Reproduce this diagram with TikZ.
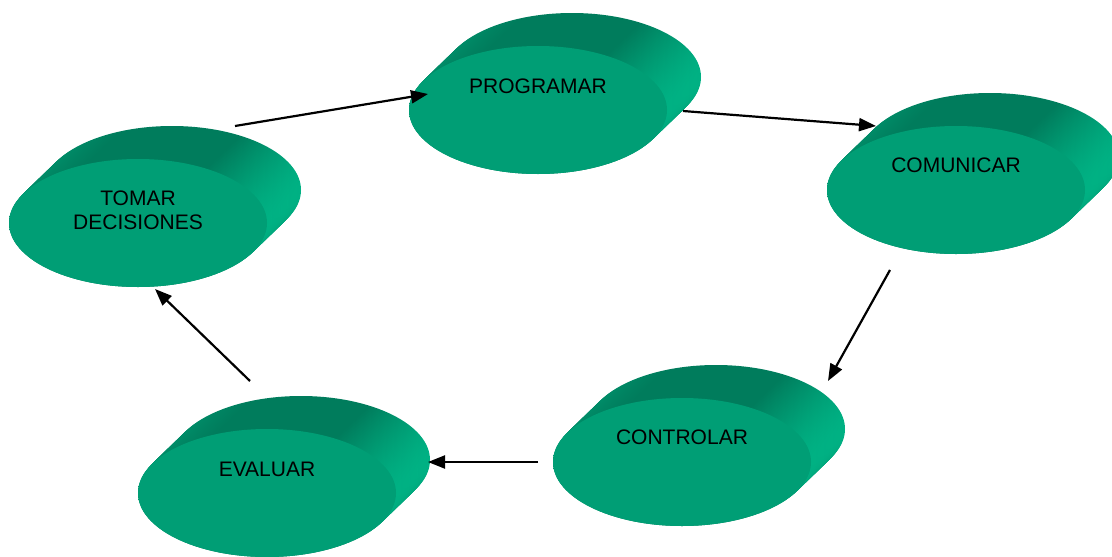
\documentclass[tikz,border=0pt]{standalone}
\usepackage{fontspec}
\setmainfont{Liberation Sans}
\usetikzlibrary{arrows.meta,shapes.geometric}
\definecolor{frontc}{RGB}{0,158,117}
\definecolor{sidel}{RGB}{0,146,108}
\definecolor{sidem}{RGB}{0,124,92}
\definecolor{sider}{RGB}{0,178,132}
\pgfdeclarehorizontalshading{sideshade}{100bp}{color(0bp)=(sidel); color(25bp)=(sidel); color(40bp)=(sidem); color(63bp)=(sidem); color(75bp)=(sider); color(100bp)=(sider)}
\tikzset{
  front/.style={ellipse, fill=frontc, minimum width=258pt, minimum height=128pt, inner sep=0pt},
  sidepart/.style={shading=sideshade},
  lbl/.style={font=\fontsize{21}{24}\selectfont, align=center, text=black},
  link/.style={line width=2.2pt, -{Triangle[length=17pt,width=13pt]}},
}
\newcommand\mydisk[5]{%
  \foreach \i in {0,...,30}{
    \shade[sidepart]
      ({#2+34-\i*34/30},{#3-33+\i*33/30}) ellipse [x radius=129pt, y radius=64pt];
  }
  \node[front] (#1) at (#2,#3) {};
  \node[lbl] (#1-t) at (#2,#3+#5) {#4};
}
\begin{document}
\begin{tikzpicture}[x=1pt,y=-1pt]
\useasboundingbox (0,0) rectangle (1112,557);
\mydisk{prog}{538}{110}{PROGRAMAR}{-24}
\mydisk{tomar}{138}{223}{TOMAR\\DECISIONES}{-13}
\mydisk{comu}{956}{190}{COMUNICAR}{-25}
\mydisk{contr}{682}{462}{CONTROLAR}{-25}
\mydisk{eval}{267}{493}{EVALUAR}{-24}
\coordinate (a1s) at (235,126); \coordinate (a1e) at (428,94);
\coordinate (a2s) at (683,111); \coordinate (a2e) at (876,126);
\coordinate (a3s) at (890,270); \coordinate (a3e) at (828,381);
\coordinate (a4s) at (538,462); \coordinate (a4e) at (428,462);
\coordinate (a5s) at (250,381); \coordinate (a5e) at (155,289);
\draw[link] (a1s) -- (a1e);
\draw[link] (a2s) -- (a2e);
\draw[link] (a3s) -- (a3e);
\draw[link] (a4s) -- (a4e);
\draw[link] (a5s) -- (a5e);
\end{tikzpicture}
\end{document}
